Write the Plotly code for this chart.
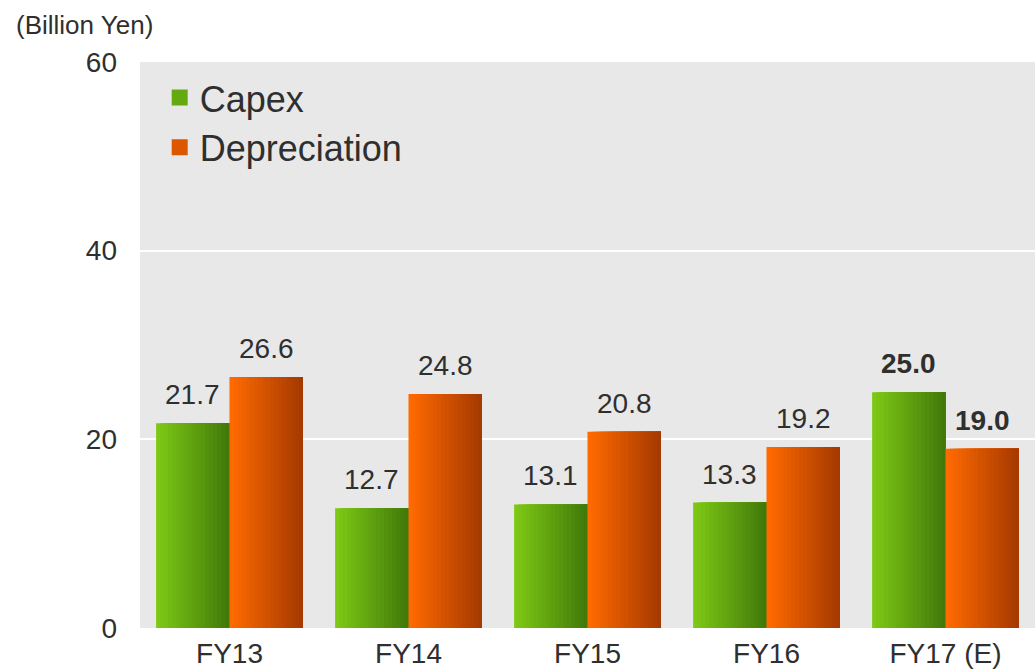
import plotly.graph_objects as go

# Data
years = ['FY13', 'FY14', 'FY15', 'FY16', 'FY17 (E)']
capex = [21.7, 12.7, 13.1, 13.3, 25.0]
depreciation = [26.6, 24.8, 20.8, 19.2, 19.0]
estimate = [False, False, False, False, True]

series = [
    ('Capex', capex, (0x7d, 0xc8, 0x15), (0x42, 0x7a, 0x0a), -0.41),
    ('Depreciation', depreciation, (0xff, 0x6a, 0x00), (0xa6, 0x3a, 0x00), 0.0),
]

bar_w = 0.41
n_slices = 18


def mix(c1, c2, t):
    return 'rgb({},{},{})'.format(*[round(a + (b - a) * t) for a, b in zip(c1, c2)])


fig = go.Figure()

# Horizontal gradient: each bar is drawn as overlapping slices, left to right
for name, values, c_left, c_right, base in series:
    for k in range(n_slices):
        step = bar_w / n_slices
        fig.add_trace(go.Bar(
            x=years, y=values,
            offset=base + k * step,
            width=bar_w - k * step,
            marker=dict(color=mix(c_left, c_right, k / (n_slices - 1)), line=dict(width=0)),
            name=name, showlegend=False,
            hoverinfo='skip' if k else 'x+y+name',
        ))

# Legend entries (bigger square symbols than the bar legend gives)
for name, values, c_left, c_right, base in series:
    fig.add_trace(go.Scatter(
        x=[None], y=[None], mode='markers', name=name, legendgroup=name,
        marker=dict(symbol='square', size=16, color=mix(c_left, c_right, 0.4), line=dict(width=0)),
    ))

# Value labels above bars
annotations = []
for name, values, c_left, c_right, base in series:
    shift = (base + bar_w / 2) * 179
    for yr, v, est in zip(years, values, estimate):
        txt = '{:.1f}'.format(v)
        annotations.append(dict(
            x=yr, y=v, xref='x', yref='y',
            text='<b>{}</b>'.format(txt) if est else txt,
            showarrow=False, xshift=shift, yshift=11, yanchor='bottom',
            font=dict(size=28, color='#2f2f2f'),
        ))

annotations.append(dict(
    x=-0.141, y=1.066, xref='paper', yref='paper', xanchor='left', yanchor='middle',
    text='(Billion Yen)', showarrow=False, font=dict(size=26, color='#2f2f2f'),
))

fig.update_layout(
    width=1035, height=670,
    margin=dict(l=140, r=0, t=62, b=42),
    barmode='overlay',
    paper_bgcolor='white',
    plot_bgcolor='#e8e8e8',
    font=dict(family='Liberation Sans, Arial, sans-serif', color='#2f2f2f', size=28),
    xaxis=dict(range=[-0.5, 4.5], showgrid=False, zeroline=False, ticks='',
               tickfont=dict(size=28), ticklabelstandoff=6),
    yaxis=dict(range=[0, 60], tickvals=[0, 20, 40, 60], showgrid=True, gridcolor='white',
               gridwidth=2, zeroline=False, tickfont=dict(size=28), ticklabelstandoff=22),
    legend=dict(x=0.022, y=0.99, xanchor='left', yanchor='top', bgcolor='rgba(0,0,0,0)',
                font=dict(size=36, color='#2f2f2f'), tracegroupgap=0, itemsizing='trace'),
    annotations=annotations,
    showlegend=True,
)

# drop the page's default body margin so the figure fills the window exactly
fig.write_html('out.html', config={'displayModeBar': False},
               post_script="document.body.style.margin='0';")
